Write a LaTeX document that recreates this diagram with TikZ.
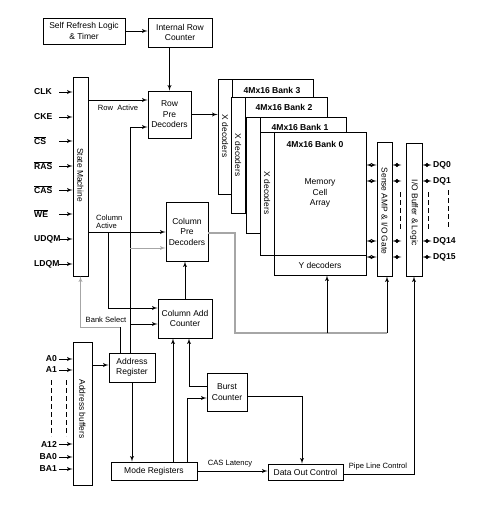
\documentclass[tikz,border=0pt]{standalone}
\usepackage{fontspec}
\setmainfont{Liberation Sans}
\usetikzlibrary{arrows}

\begin{document}
\begin{tikzpicture}[x=1pt,y=-1pt]
    \tikzset{blk/.style = {shape=rectangle,draw,line width=0.9pt,align=center,inner sep=0pt,font=\fontsize{8.5}{10.5}\selectfont}}
    \tikzset{bank/.style = {shape=rectangle,draw,fill=white,line width=0.9pt,inner sep=0pt}}
    \tikzset{vtxt/.style = {rotate=-90,inner sep=0pt,font=\fontsize{8.4}{10}\selectfont}}
    \tikzset{pin/.style = {inner sep=0pt,font=\fontsize{8.6}{10}\selectfont\bfseries}}
    \tikzset{tag/.style = {inner sep=0pt,align=left,font=\fontsize{7.6}{8.5}\selectfont}}
    \tikzset{edge/.style = {->,> = latex',line width=0.9pt}}
    \tikzset{bidir/.style = {<->,> = latex',line width=0.9pt}}
    \tikzset{gedge/.style = {line width=1.1pt,gray!70}}
    \tikzset{dashline/.style = {line width=0.9pt,dash pattern=on 5pt off 3pt}}

    \useasboundingbox (0,0) rectangle (484,506);

    % blocks
    \node[blk,minimum width=82pt,minimum height=26pt] (selfref) at (84,31) {Self Refresh Logic\\ \& Timer};
    \node[blk,minimum width=64pt,minimum height=29pt] (introw) at (180,32.5) {Internal Row\\Counter};
    \node[blk,minimum width=15pt,minimum height=199pt] (sm) at (80.5,176.5) {};
    \node[vtxt] (smtxt) at (80.5,175) {State Machine};
    \node[blk,minimum width=43pt,minimum height=47pt] (rowpre) at (169.5,114.5) {Row\\Pre\\Decoders};
    \node[blk,minimum width=42pt,minimum height=59pt] (colpre) at (187,231.5) {Column\\Pre\\Decoders};
    \node[blk,minimum width=54pt,minimum height=39pt] (coladd) at (185,318.5) {Column Add\\Counter};
    \node[blk,minimum width=19pt,minimum height=143pt] (addrbuf) at (82.5,413.5) {};
    \node[vtxt] (abtxt) at (82.5,409) {Address buffers};
    \node[blk,minimum width=46pt,minimum height=29pt] (addrreg) at (132,367.5) {Address\\Register};
    \node[blk,minimum width=40pt,minimum height=38pt] (burst) at (227,392) {Burst\\Counter};
    \node[blk,minimum width=86pt,minimum height=18pt] (mode) at (154,471) {Mode Registers};
    \node[blk,minimum width=75pt,minimum height=16pt] (dataout) at (305.5,472) {Data Out Control};
    \node[blk,minimum width=15pt,minimum height=134pt] (sense) at (384.5,209) {};
    \node[vtxt] (sensetxt) at (384.5,211) {Sense AMP \& I/O Gate};
    \node[blk,minimum width=16pt,minimum height=133pt] (iobuf) at (414,209.5) {};
    \node[vtxt] (iotxt) at (414,213) {I/O Buffer \& Logic};

    % banks
    \node[bank,minimum width=95pt,minimum height=115pt] (bank3) at (265.5,136.5) {};
    \node[bank,minimum width=14pt,minimum height=115pt] (xdec3) at (225,136.5) {};
    \node[vtxt] (xd3) at (225,136) {X decoders};
    \node[pin] (b3) at (272,90) {4Mx16 Bank 3};

    \node[bank,minimum width=96pt,minimum height=116pt] (bank2) at (279,155) {};
    \node[bank,minimum width=14pt,minimum height=116pt] (xdec2) at (238,155) {};
    \node[vtxt] (xd2) at (238,155) {X decoders};
    \node[pin] (b2) at (284,107) {4Mx16 Bank 2};

    \node[bank,minimum width=100pt,minimum height=116pt] (bank1) at (296,175) {};
    \node[bank,minimum width=14pt,minimum height=116pt] (xdec1) at (253,175) {};
    \node[pin] (b1) at (300,127) {4Mx16 Bank 1};

    \node[bank,minimum width=106pt,minimum height=123pt] (bank0) at (313,193.5) {};
    \node[bank,minimum width=14pt,minimum height=123pt] (xdec0) at (267,193.5) {};
    \node[vtxt] (xd0) at (267,193) {X decoders};
    \node[pin] (b0) at (315,144) {4Mx16 Bank 0};
    \node[blk,draw=none] (cells) at (320,193) {Memory\\Cell\\Array};
    \node[blk,minimum width=92pt,minimum height=20pt] (ydec) at (320,265) {Y decoders};

    % control inputs
    \foreach \name/\txt/\y in {clk/CLK/92, cke/CKE/117, cs/\(\overline{\mbox{CS}}\)/141,
        ras/\(\overline{\mbox{RAS}}\)/166, cas/\(\overline{\mbox{CAS}}\)/190,
        we/\(\overline{\mbox{WE}}\)/214, udqm/UDQM/239, ldqm/LDQM/264}
    {
        \node[pin,anchor=west,text width=25pt] (\name) at (34,\y) {\txt};
        \draw[edge] (\name.east) -- (\name.east -| sm.west);
    }

    % address inputs
    \foreach \name/\txt/\y in {a0/A0/359, a1/A1/370, a12/A12/444, ba0/BA0/457, ba1/BA1/469}
    {
        \node[pin,anchor=east] (\name) at (57,\y) {\txt};
        \draw[edge] ([xshift=2pt]\name.east) -- (\name.east -| addrbuf.west);
    }
    \draw[dashline] (51,380) -- (51,436);
    \draw[dashline] (66,380) -- (66,436);

    % data pins
    \foreach \name/\txt/\y in {dq0/DQ0/165, dq1/DQ1/181, dq14/DQ14/241, dq15/DQ15/257}
    {
        \node[pin,anchor=west] (\name) at (433,\y) {\txt};
        \draw[bidir] (bank0.east |- \name) -- (sense.west |- \name);
        \draw[bidir] (sense.east |- \name) -- ++(9,0);
        \draw[bidir] (iobuf.east |- \name) -- ([xshift=-1.5pt]\name.west);
    }
    \draw[dashline] (400,192) -- (400,231);
    \draw[dashline] (428,192) -- (428,231);
    \draw[dashline] (448,190) -- (448,229);

    % coordinates
    \coordinate (coltap) at (108,232);
    \coordinate (bsel) at (120,327);
    \coordinate (ycorner) at (235,333);
    \coordinate (ytap) at (327,333);
    \coordinate (stap) at (387,333);

    % edges
    \draw[edge] (selfref.east) -- (selfref.east -| introw.west);
    \draw[edge] (rowpre.north |- introw.south) -- (rowpre.north);
    \draw[edge] (sm.east |- 0,100) -- (rowpre.west |- 0,100);
    \node[tag] (rowact) at (118,108) {Row\ \ Active};
    \draw[edge] (rowpre.east) -- (rowpre.east -| xdec3.west);

    \draw[edge] (addrreg.north -| 130,0) |- (rowpre.west |- 0,127);
    \draw[edge,gray!70] (130,248) -- (colpre.west |- 0,248);
    \draw[edge] (130,324) -- (coladd.west |- 0,324);

    \draw[edge] (sm.east |- coltap) -- (colpre.west |- coltap);
    \node[tag,anchor=south west] (colact) at (96,229) {Column\\Active};
    \draw[edge] (coltap) |- (coladd.west |- 0,308);
    \draw[edge] (coladd.north) -- (coladd.north |- colpre.south);

    \draw[line width=0.9pt] (addrreg.north -| bsel) -- (bsel);
    \draw[edge,gray!70] (bsel) -| (sm.south);
    \node[tag] (bank) at (106,320) {Bank Select};

    \draw[edge] (addrbuf.east |- 0,365) -- (addrreg.west |- 0,365);
    \draw[edge] (addrreg.south) -- (addrreg.south |- mode.north);
    \draw[edge] (mode.north -| 173,0) -- (coladd.south -| 173,0);
    \draw[edge] (mode.north -| 187,0) |- (burst.west |- 0,398);
    \draw[edge] (burst.west |- 0,386) -| (coladd.south -| 189,0);
    \draw[edge] (burst.east |- 0,396) -| (dataout.north -| 302,0);

    \draw[edge] (mode.east) -- (mode.east -| dataout.west);
    \node[tag] (caslat) at (230,464) {CAS Latency};
    \draw[edge] (dataout.east |- 0,474) -| (iobuf.south);
    \node[tag] (pipe) at (378,467) {Pipe Line Control};

    \draw[gedge] (colpre.east |- 0,233) -| (ycorner) -- (stap);
    \draw[edge] (ytap) -- (ydec.south -| ytap);
    \draw[edge] (stap) -- (sense.south -| stap);
\end{tikzpicture}
\end{document}
